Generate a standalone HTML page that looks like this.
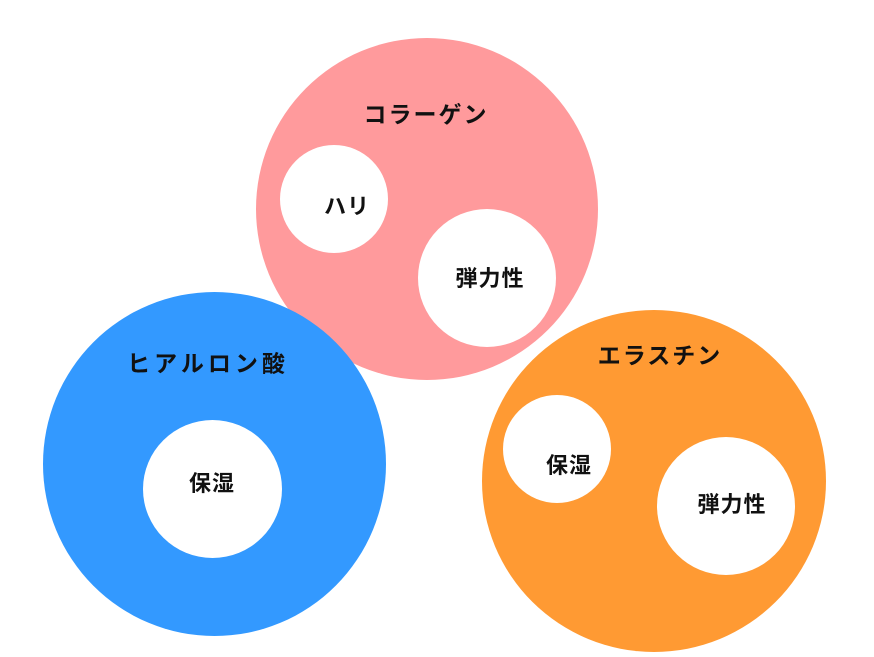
<!DOCTYPE html>
<html><head><meta charset="utf-8"><style>
html,body{margin:0;padding:0;background:#fff;}
body{width:874px;height:657px;position:relative;overflow:hidden;font-family:"Liberation Sans","Noto Sans CJK JP",sans-serif;}
.c{position:absolute;border-radius:50%;}
.t{position:absolute;font-weight:bold;color:#111;white-space:nowrap;transform:translate(-50%,-50%);line-height:1;}
.big{font-size:23px;letter-spacing:2px;}
.sm{font-size:22px;letter-spacing:1px;}
</style></head><body>
<div class="c" style="left:256px;top:38px;width:342px;height:342px;background:#FF9A9C"></div>
<div class="c" style="left:280px;top:145px;width:108px;height:108px;background:#fff"></div>
<div class="c" style="left:418px;top:209px;width:138px;height:138px;background:#fff"></div>
<div class="c" style="left:43px;top:292px;width:343px;height:344px;background:#3399FF"></div>
<div class="c" style="left:143px;top:420px;width:139px;height:138px;background:#fff"></div>
<div class="c" style="left:482px;top:310px;width:344px;height:342px;background:#FF9A33"></div>
<div class="c" style="left:503px;top:395px;width:108px;height:108px;background:#fff"></div>
<div class="c" style="left:657px;top:437px;width:138px;height:138px;background:#fff"></div>

<div class="t big" style="left:426px;top:115px">コラーゲン</div>
<div class="t sm" style="left:347px;top:207px">ハリ</div>
<div class="t sm" style="left:490px;top:279px">弾力性</div>
<div class="t big" style="left:208px;top:364px;letter-spacing:4px">ヒアルロン酸</div>
<div class="t big" style="left:660px;top:356px">エラスチン</div>
<div class="t sm" style="left:212px;top:484px">保湿</div>
<div class="t sm" style="left:569px;top:466px">保湿</div>
<div class="t sm" style="left:732px;top:505px">弾力性</div>
</body></html>
